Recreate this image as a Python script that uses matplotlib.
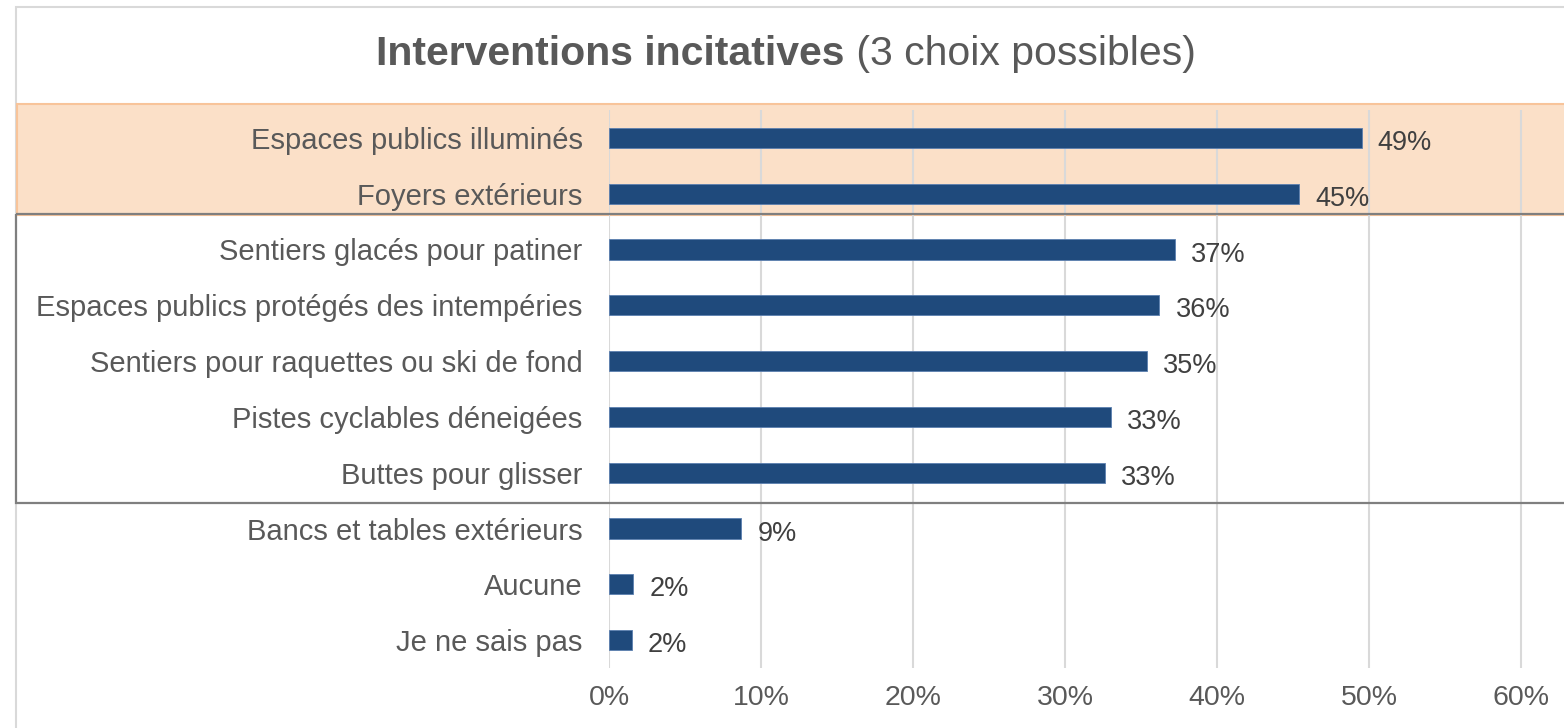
import matplotlib.pyplot as plt
from matplotlib.patches import Rectangle
from matplotlib.transforms import blended_transform_factory

plt.rcParams['font.family'] = ['Liberation Sans', 'DejaVu Sans']

categories = [
    "Espaces publics illuminés",
    "Foyers extérieurs",
    "Sentiers glacés pour patiner",
    "Espaces publics protégés des intempéries",
    "Sentiers pour raquettes ou ski de fond",
    "Pistes cyclables déneigées",
    "Buttes pour glisser",
    "Bancs et tables extérieurs",
    "Aucune",
    "Je ne sais pas",
]
values = [49.5, 45.4, 37.2, 36.2, 35.4, 33.0, 32.6, 8.7, 1.6, 1.5]
value_labels = ["49%", "45%", "37%", "36%", "35%", "33%", "33%", "9%", "2%", "2%"]
ticks = [0, 10, 20, 30, 40, 50, 60]
tick_labels = ["0%", "10%", "20%", "30%", "40%", "50%", "60%"]

TXT = "#595959"
BAR = "#1F4A7C"

fig = plt.figure(figsize=(15.64, 7.28), dpi=100)
W, H = 1564, 728
ax = fig.add_axes([609 / W, 1 - 668 / H, 1 - 609 / W, 558 / H])
ax.set_facecolor("none")

y = list(range(len(categories)))
ax.barh(y, values, height=0.36, color=BAR, edgecolor="#5B7FAF", linewidth=0.6, zorder=3)
for yi, v, lab in zip(y, values, value_labels):
    ax.annotate(lab, (v, yi), xytext=(11.5, -1.5), textcoords="offset points",
                va="center_baseline", ha="left", fontsize=19.5, color="#404040")

ax.set_ylim(9.5, -0.5)
ax.set_xlim(0, 62.8)
ax.set_yticks(y)
ax.set_yticklabels(categories, fontsize=21, color=TXT)
ax.set_xticks(ticks)
ax.set_xticklabels(tick_labels, fontsize=20.5, color=TXT)
ax.tick_params(axis="y", length=0, pad=19)
ax.tick_params(axis="x", length=0, pad=12)
ax.grid(axis="x", color="#D9D9D9", linewidth=1.5, zorder=0)
for s in ax.spines.values():
    s.set_visible(False)

# highlight boxes (x in figure, y in data)
tr = blended_transform_factory(fig.transFigure, ax.transData)
fig.patches.append(Rectangle((17 / W, -0.61), 1.0, 1.99, transform=tr,
                             facecolor="#FBE0C8", edgecolor="#F8C49A",
                             linewidth=1.5, zorder=-1))
fig.patches.append(Rectangle((16 / W, 1.37), 1.0, 5.17, transform=tr,
                             facecolor="none", edgecolor="#7F7F7F",
                             linewidth=1.6, zorder=5))
# outer frame
fig.patches.append(Rectangle((16 / W, -0.1), 1.0, 1 - 7 / H + 0.1,
                             transform=fig.transFigure, facecolor="none",
                             edgecolor="#D9D9D9", linewidth=1.5, zorder=-2))

# title: bold part + regular part, centred together
ty = 1 - 54 / H
t1 = fig.text(0, ty, "Interventions incitatives", fontsize=29.5, weight="bold",
              color=TXT, va="center", ha="left")
t2 = fig.text(0, ty, " (3 choix possibles)", fontsize=29.5, color=TXT,
              va="center", ha="left")
r = fig.canvas.get_renderer()
w1 = t1.get_window_extent(r).width / W
w2 = t2.get_window_extent(r).width / W
x0 = 0.5 + 4 / W - (w1 + w2) / 2
t1.set_x(x0)
t2.set_x(x0 + w1)

fig.savefig("out.png", dpi=100)
